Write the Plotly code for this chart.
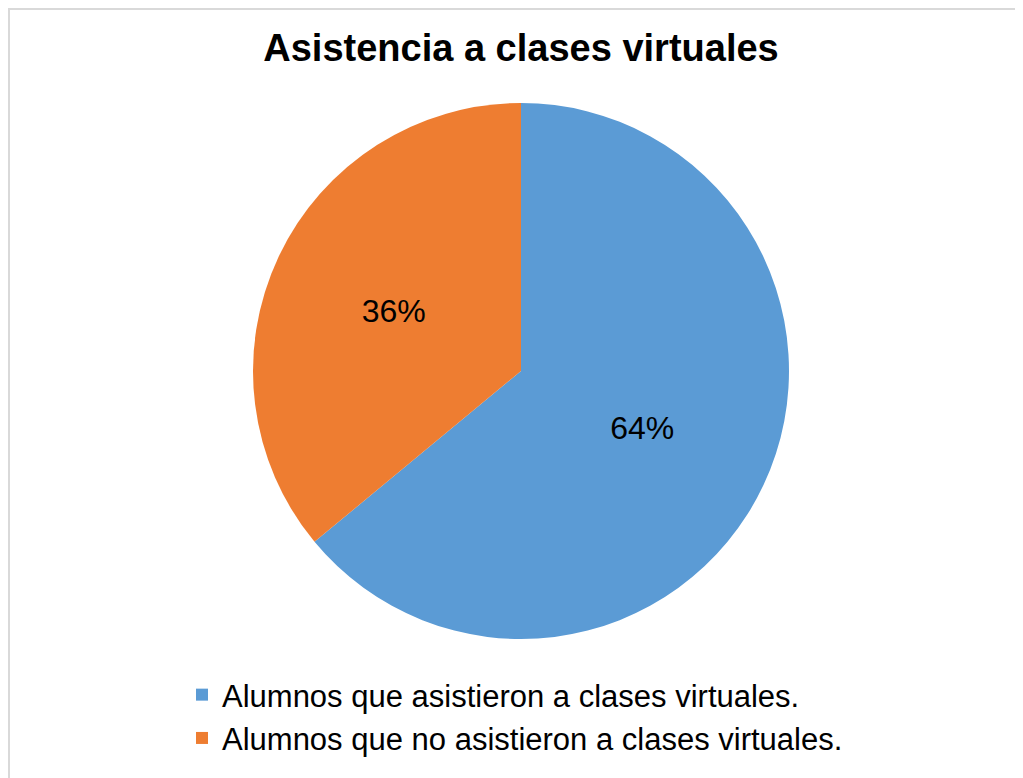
import plotly.graph_objects as go

categories = ["Alumnos que asistieron a clases virtuales.",
              "Alumnos que no asistieron a clases virtuales."]
values = [64, 36]
colors = ["#5B9BD5", "#EE7D31"]

W, H = 1023, 778
OFF = 8  # page body margin offset
cx, cy, r = 521 - OFF, 371 - OFF, 268

fig = go.Figure(go.Pie(
    labels=categories,
    values=values,
    sort=False,
    direction="clockwise",
    rotation=0,
    marker=dict(colors=colors, line=dict(width=0)),
    textinfo="percent",
    texttemplate="%{percent:.0%}",
    textposition="inside",
    insidetextorientation="horizontal",
    textfont=dict(family="Arial, Liberation Sans", size=32, color="black"),
    domain=dict(x=[(cx - r) / W, (cx + r) / W], y=[(H - cy - r) / H, (H - cy + r) / H]),
    hoverinfo="label+percent",
))

fig.update_layout(
    width=W, height=H,
    margin=dict(l=0, r=0, t=0, b=0),
    paper_bgcolor="white",
    title=dict(text="<b>Asistencia a clases virtuales</b>", x=(521 - OFF) / W, xanchor="center",
               y=1 - (48 - OFF) / H, yanchor="middle",
               font=dict(family="Arial, Liberation Sans", size=38, color="black")),
    legend=dict(x=(182 - OFF) / W, xanchor="left", y=1 - (668 - OFF) / H, yanchor="top",
                font=dict(family="Arial, Liberation Sans", size=31, color="black"),
                bgcolor="rgba(0,0,0,0)"),
    shapes=[dict(type="rect", xref="paper", yref="paper",
                 x0=1 / W, x1=1.01, y0=-0.01, y1=1 - 1 / H,
                 line=dict(color="#d9d9d9", width=2))],
)

fig.write_html("out.html")
